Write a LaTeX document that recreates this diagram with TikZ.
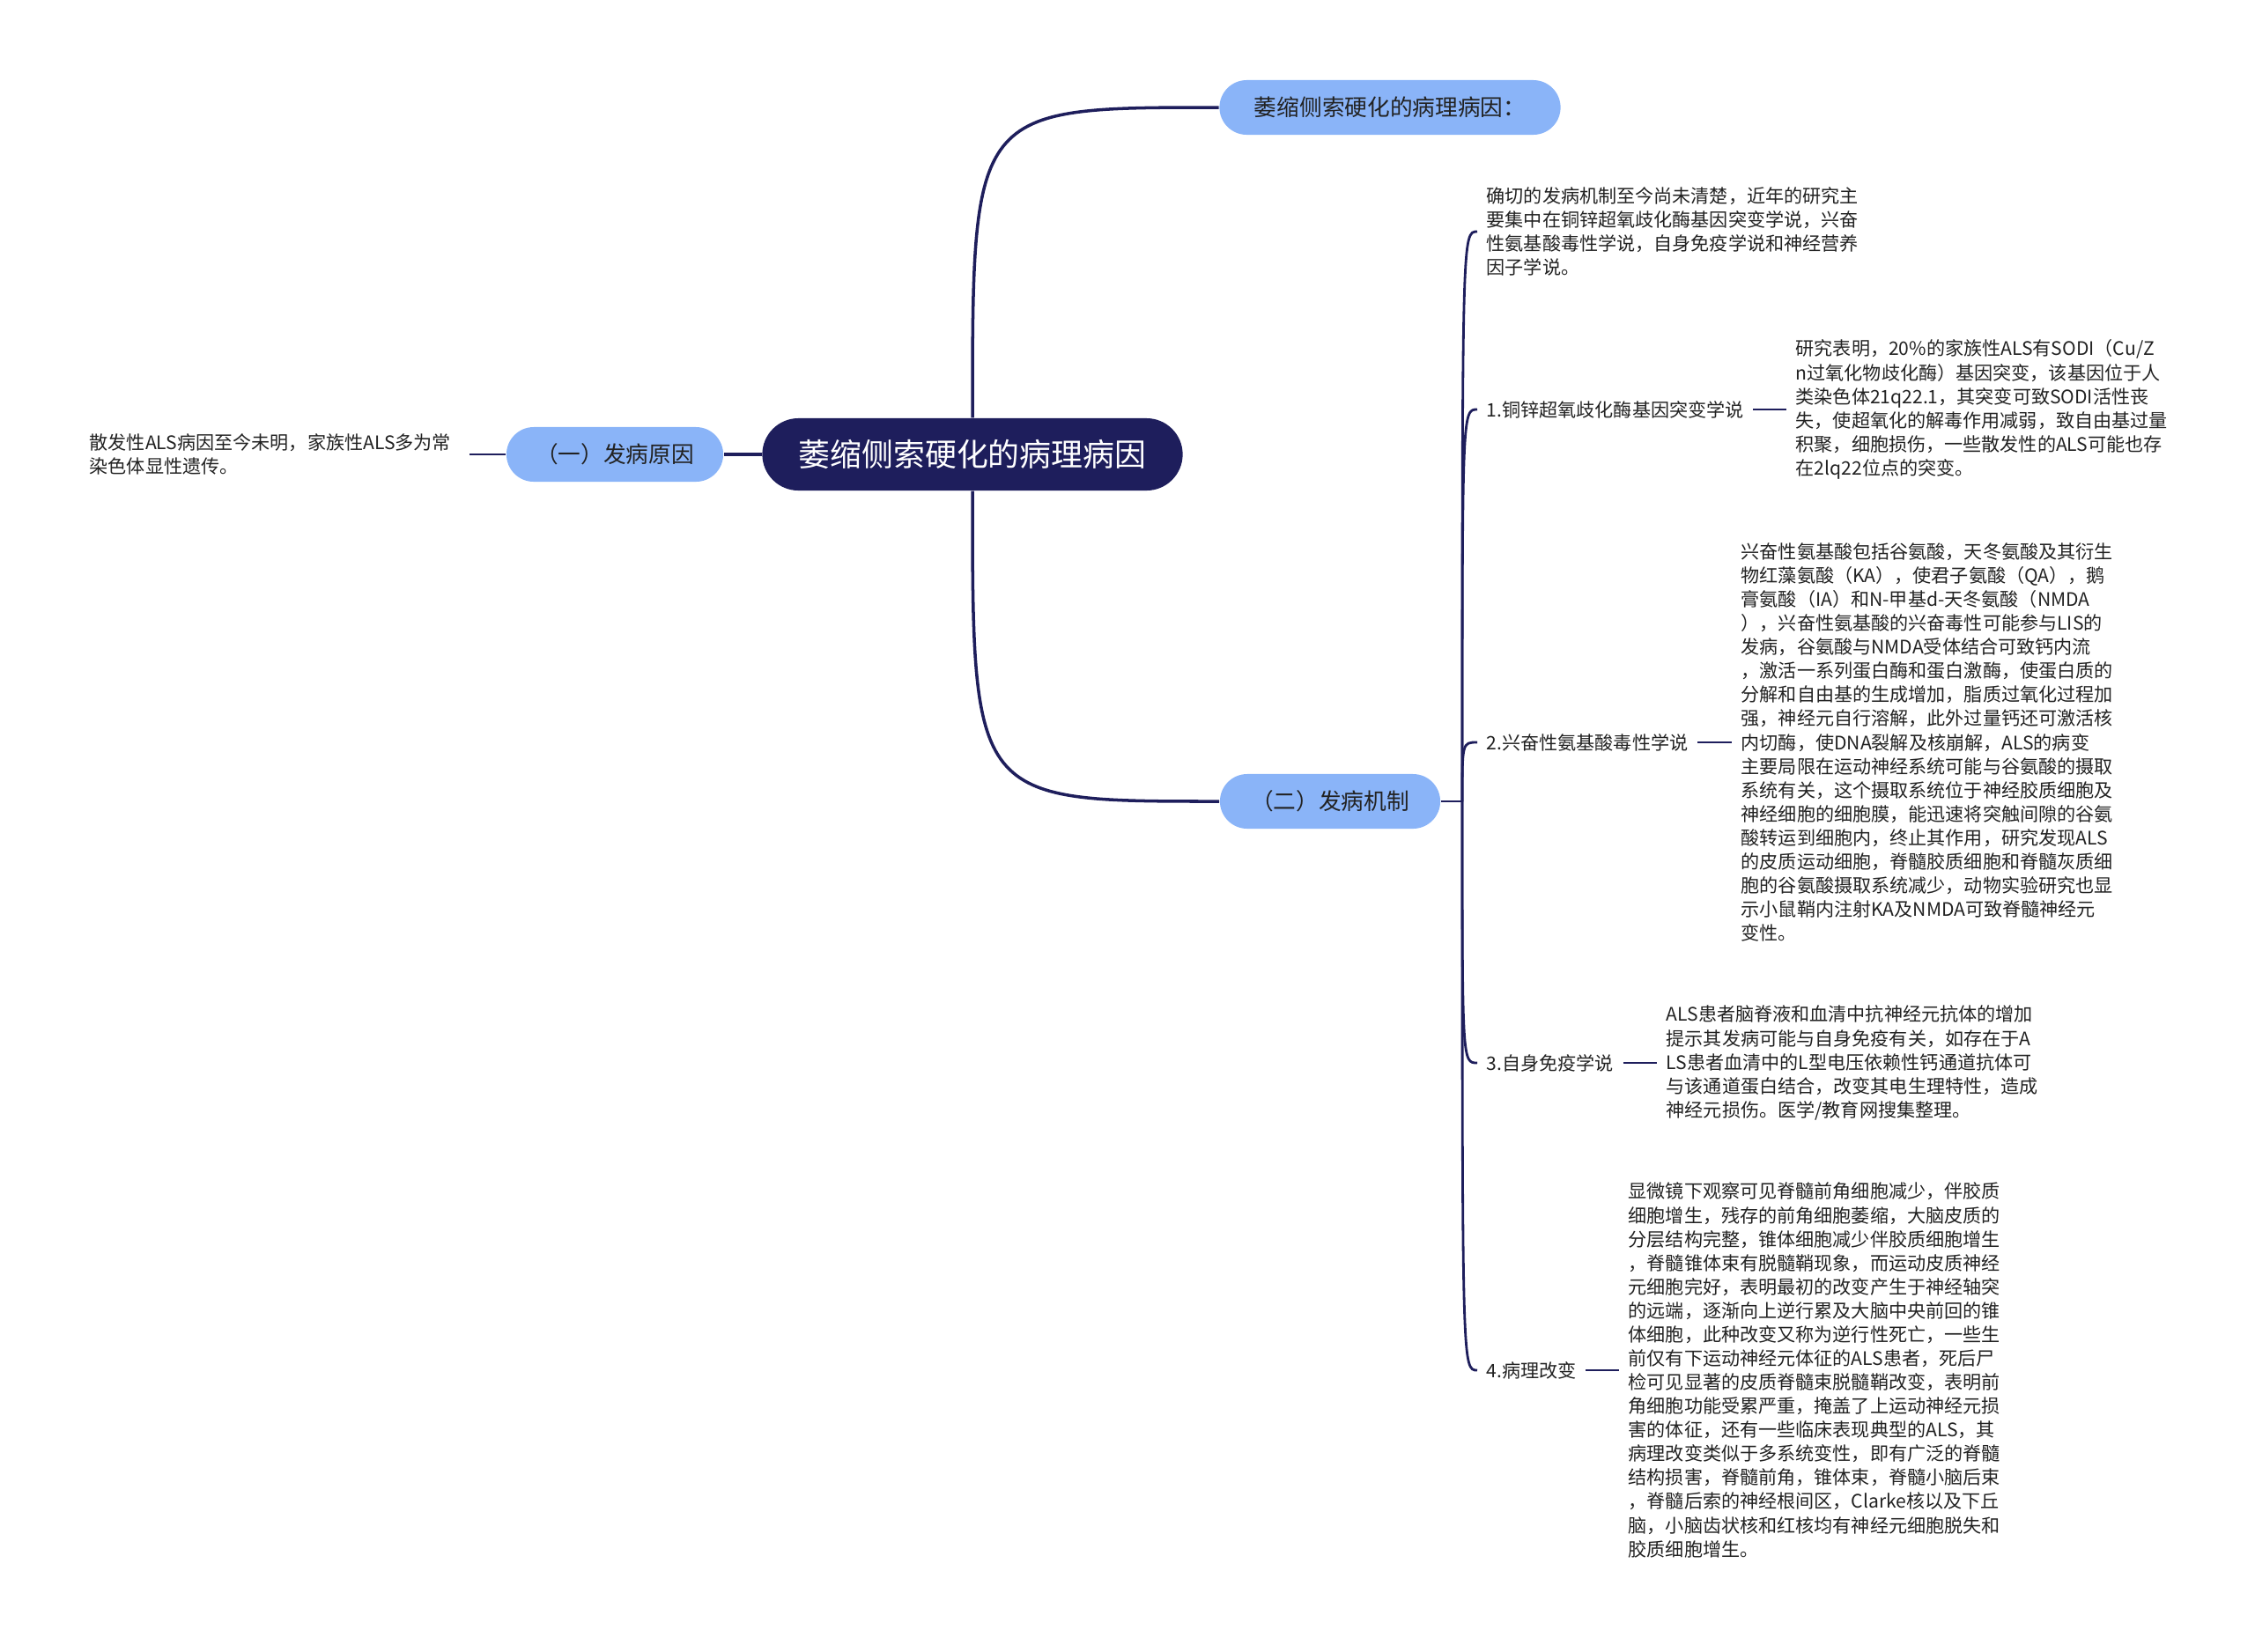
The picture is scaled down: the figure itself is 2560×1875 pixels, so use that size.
\documentclass[tikz,border=0pt]{standalone}
\usepackage{fontspec}
\setmainfont{Noto Sans CJK SC}
\definecolor{tumma}{HTML}{1E1E5C}
\definecolor{vaalea}{HTML}{8AB4F8}
\definecolor{teksti}{HTML}{222222}
\tikzset{
  pill/.style={fill=vaalea, rounded corners=0.31cm, minimum height=0.62cm, inner sep=0pt, text=teksti, font=\fontsize{7.3}{8}\selectfont},
  lab/.style={anchor=west, inner xsep=0.1cm, inner ysep=0pt, text=teksti, font=\fontsize{6.0}{7.7}\selectfont},
  par/.style={lab, align=left},
  yhteys/.style={draw=tumma, line width=0.8pt}
}
\begin{document}
\begin{tikzpicture}[x=0.01cm,y=-0.01cm]
\useasboundingbox (0,0) rectangle (2560,1875);
\newcommand\haara[5]{
\node[lab] (l#1) at (1677,#2) {#3};
\node[par] (p#1) at (#4,#2) {#5};
\path[yhteys] (l#1) -- (p#1);
\path[yhteys] (hub) .. controls (hub |- l#1.west) .. (l#1.west);
}
% keskus ja paahaarat
\node[fill=tumma, text=white, rounded corners=0.41cm, minimum width=4.77cm, minimum height=0.82cm, inner sep=0pt, font=\fontsize{10.2}{12}\selectfont] (root) at (1104,516) {萎缩侧索硬化的病理病因};
\node[pill, minimum width=3.87cm] (top) at (1578,122) {萎缩侧索硬化的病理病因：};
\node[pill, minimum width=2.46cm] (sub1) at (698,516) {（一）发病原因};
\node[pill, minimum width=2.5cm] (sub2) at (1510,910) {（二）发病机制};
\path[yhteys, line width=1pt] (root.north) .. controls (root.north |- top.west) .. (top.west);
\path[yhteys, line width=1pt] (root.south) .. controls (root.south |- sub2.west) .. (sub2.west);
\path[yhteys, line width=1pt] (root) -- (sub1);
% vasen lehti
\node[par, anchor=west, inner xsep=0.2cm] (leafL) at (81,516) {散发性ALS病因至今未明，家族性ALS多为常\\染色体显性遗传。};
\path[yhteys] (sub1) -- (leafL);
% oikea puoli
\coordinate (hub) at (1660,910);
\path[yhteys] (sub2) -- (hub);
\node[par] (p0) at (1677,263) {确切的发病机制至今尚未清楚，近年的研究主\\要集中在铜锌超氧歧化酶基因突变学说，兴奋\\性氨基酸毒性学说，自身免疫学说和神经营养\\因子学说。};
\path[yhteys] (hub) .. controls (hub |- p0.west) .. (p0.west);
\haara{1}{465}{1.铜锌超氧歧化酶基因突变学说}{2028}{研究表明，20\%的家族性ALS有SODI（Cu/Z\\n过氧化物歧化酶）基因突变，该基因位于人\\类染色体21q22.1，其突变可致SODI活性丧\\失，使超氧化的解毒作用减弱，致自由基过量\\积聚，细胞损伤，一些散发性的ALS可能也存\\在2lq22位点的突变。}
\haara{2}{843}{2.兴奋性氨基酸毒性学说}{1966}{兴奋性氨基酸包括谷氨酸，天冬氨酸及其衍生\\物红藻氨酸（KA），使君子氨酸（QA），鹅\\膏氨酸（IA）和N-甲基d-天冬氨酸（NMDA\\），兴奋性氨基酸的兴奋毒性可能参与LIS的\\发病，谷氨酸与NMDA受体结合可致钙内流\\，激活一系列蛋白酶和蛋白激酶，使蛋白质的\\分解和自由基的生成增加，脂质过氧化过程加\\强，神经元自行溶解，此外过量钙还可激活核\\内切酶，使DNA裂解及核崩解，ALS的病变\\主要局限在运动神经系统可能与谷氨酸的摄取\\系统有关，这个摄取系统位于神经胶质细胞及\\神经细胞的细胞膜，能迅速将突触间隙的谷氨\\酸转运到细胞内，终止其作用，研究发现ALS\\的皮质运动细胞，脊髓胶质细胞和脊髓灰质细\\胞的谷氨酸摄取系统减少，动物实验研究也显\\示小鼠鞘内注射KA及NMDA可致脊髓神经元\\变性。}
\haara{3}{1207}{3.自身免疫学说}{1881}{ALS患者脑脊液和血清中抗神经元抗体的增加\\提示其发病可能与自身免疫有关，如存在于A\\LS患者血清中的L型电压依赖性钙通道抗体可\\与该通道蛋白结合，改变其电生理特性，造成\\神经元损伤。医学/教育网搜集整理。}
\haara{4}{1556}{4.病理改变}{1838}{显微镜下观察可见脊髓前角细胞减少，伴胶质\\细胞增生，残存的前角细胞萎缩，大脑皮质的\\分层结构完整，锥体细胞减少伴胶质细胞增生\\，脊髓锥体束有脱髓鞘现象，而运动皮质神经\\元细胞完好，表明最初的改变产生于神经轴突\\的远端，逐渐向上逆行累及大脑中央前回的锥\\体细胞，此种改变又称为逆行性死亡，一些生\\前仅有下运动神经元体征的ALS患者，死后尸\\检可见显著的皮质脊髓束脱髓鞘改变，表明前\\角细胞功能受累严重，掩盖了上运动神经元损\\害的体征，还有一些临床表现典型的ALS，其\\病理改变类似于多系统变性，即有广泛的脊髓\\结构损害，脊髓前角，锥体束，脊髓小脑后束\\，脊髓后索的神经根间区，Clarke核以及下丘\\脑，小脑齿状核和红核均有神经元细胞脱失和\\胶质细胞增生。}
\end{tikzpicture}
\end{document}
